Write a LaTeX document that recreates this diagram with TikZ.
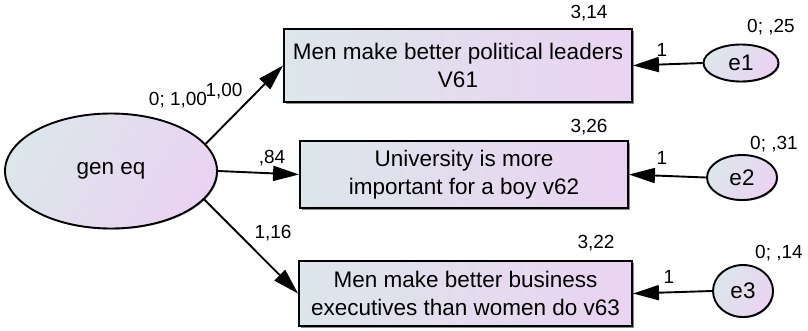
\documentclass[tikz,border=0pt]{standalone}
\usepackage{fontspec}
\setmainfont{Liberation Sans}
\usepackage{xcolor}
\definecolor{colorShadeLeft}{HTML}{DCE6EB}
\definecolor{colorShadeRight}{HTML}{EAD3F2}
\colorlet{colorShadow}{black!45}
\usetikzlibrary{arrows.meta, shapes.geometric, shadows, positioning}
\tikzset{
  latent/.style={ellipse, draw, inner sep=0pt, left color=colorShadeLeft,
    right color=colorShadeRight, shading angle=60,
    drop shadow={shadow xshift=1pt, shadow yshift=-1pt, fill=colorShadow, opacity=1},
    font=\fontsize{22.5}{27}\selectfont},
  observed/.style={rectangle, draw, inner sep=0pt, align=center,
    left color=colorShadeLeft, right color=colorShadeRight,
    drop shadow={shadow xshift=1.5pt, shadow yshift=-1.5pt, fill=colorShadow, opacity=1},
    font=\fontsize{22.5}{28}\selectfont},
  coef/.style={inner sep=0pt, font=\fontsize{19}{21}\selectfont}
}

\begin{document}
\begin{tikzpicture}[x=1pt, y=-1pt, >={Triangle[length=26pt, width=15pt]}, line width=1.9pt]
\useasboundingbox (0,0) rectangle (808,330);
% factor and indicators
\node[latent, minimum width=212pt, minimum height=115pt] (genEq) at (111,171) {gen eq};
\node[observed, minimum width=348pt, minimum height=73pt] (v61) at (458,65.5) {Men make better political leaders\\V61};
\node[observed, minimum width=328pt, minimum height=67pt] (v62) at (464,174.5) {University is more\\important for a boy v62};
\node[observed, minimum width=333pt, minimum height=65pt] (v63) at (465.5,293.5) {Men make better business\\executives than women do v63};
% error terms
\node[latent, minimum width=75pt, minimum height=37pt] (e1) at (741,63) {e1};
\node[latent, minimum width=70pt, minimum height=45pt] (e2) at (742,177.5) {e2};
\node[latent, minimum width=60pt, minimum height=52pt] (e3) at (743,291) {e3};
% paths
\draw[->] (genEq.16) -- (v61.west);
\draw[->] (genEq.east) -- (v62.west);
\draw[->] (genEq.-17) -- (v63.west);
\draw[->] (e1.west) -- (v61.east);
\draw[->] (e2.west) -- (v62.east);
\draw[->] (e3.west) -- (v63.east);
% estimates
\node[coef] (genEqVar) at (178,100) {0; 1,00};
\node[coef] (w61) at (224,91) {1,00};
\node[coef] (w62) at (272,158) {,84};
\node[coef] (w63) at (273,233) {1,16};
\node[coef] (m61) at (589,13) {3,14};
\node[coef] (m62) at (589,127) {3,26};
\node[coef] (m63) at (596,243) {3,22};
\node[coef] (e1Var) at (771,27) {0; ,25};
\node[coef] (e2Var) at (774,144) {0; ,31};
\node[coef] (e3Var) at (779,253) {0; ,14};
\node[coef] (f1) at (662,50) {1};
\node[coef] (f2) at (662,158) {1};
\node[coef] (f3) at (669,277) {1};
\end{tikzpicture}
\end{document}
